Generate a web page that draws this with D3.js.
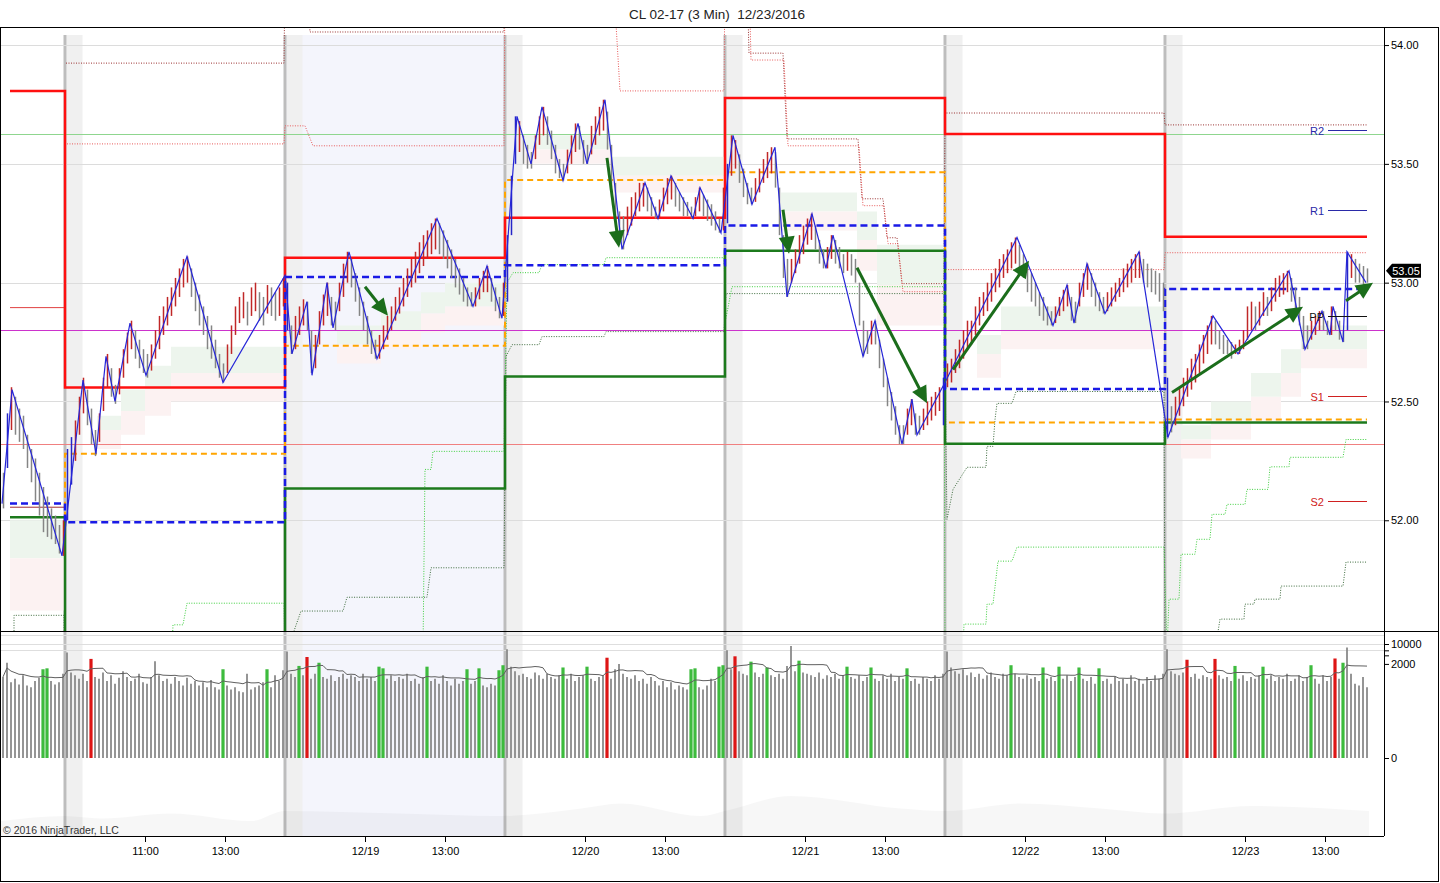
<!DOCTYPE html>
<html><head><meta charset="utf-8">
<script src="https://cdn.jsdelivr.net/npm/d3@7"></script>
<style>
body{margin:0;background:#fff;}
svg{display:block;font-family:"Liberation Sans",Arial,sans-serif;}
</style>
</head><body>
<svg id="c" width="1440" height="883"></svg>
<script>
// ================= DATA =================
const titleText = "CL 02-17 (3 Min)  12/23/2016";
const copyrightText = "\u00a9 2016 NinjaTrader, LLC";
// sessions: 3-min bar slots from chart start
const sessionDates = ["12/15","12/16","12/19","12/20","12/21","12/22","12/23"];
const sessionStartSlots = [0,32,142,252,362,472,582];
const firstLevelSlot = 4.5, lastSlot = 683;
const highlightedSession = 2;
// x-axis labels
const tickSlots = [72,112,182,222,292,332,402,442,512,552,622,662];
const tickLabels = ["11:00","13:00","12/19","13:00","12/20","13:00","12/21","13:00","12/22","13:00","12/23","13:00"];
const priceTicks = [52.00,52.50,53.00,53.50,54.00];
const volTicks = [0,2000,4000,6000,10000];
const volLabelled = [0,2000,10000];
const volGrid = [6000,10000,20000];
const lastPrice = 53.05;

// price bars per session [high, low], one per 6 minutes
const bars1215 = [[52.20,52.05],[52.45,52.22],[52.56,52.38],[52.52,52.36],[52.47,52.33],[52.44,52.30],[52.36,52.22],[52.30,52.16],[52.26,52.08],[52.20,52.02],[52.14,51.95],[52.10,51.93],[52.05,51.92],[52.02,51.90],[51.98,51.86],[52.00,51.85]];
const bars1216 = [[52.30,52.00],[52.35,52.15],[52.42,52.25],[52.52,52.36],[52.60,52.45],[52.55,52.40],[52.47,52.32],[52.38,52.27],[52.45,52.33],[52.60,52.46],
[52.70,52.56],[52.64,52.52],[52.57,52.49],[52.64,52.53],[52.72,52.60],[52.79,52.66],[52.84,52.72],[52.80,52.68],[52.76,52.64],[52.72,52.62],
[52.70,52.60],[52.74,52.63],[52.80,52.68],[52.86,52.72],[52.90,52.78],[52.94,52.82],[52.98,52.86],[53.02,52.90],[53.06,52.94],[53.10,52.98],
[53.11,53.00],[53.06,52.94],[53.00,52.88],[52.95,52.82],[52.90,52.78],[52.86,52.72],[52.82,52.68],[52.76,52.64],[52.70,52.60],[52.66,52.58],
[52.74,52.62],[52.82,52.70],[52.90,52.78],[52.94,52.83],[52.96,52.85],[52.92,52.82],[52.98,52.86],[53.00,52.88],[52.96,52.84],[52.94,52.82],
[52.99,52.87],[52.98,52.86],[52.96,52.84],[52.98,52.86],[53.02,52.90]];
const bars1219 = [[53.00,52.80],[52.82,52.70],[52.86,52.72],[52.90,52.78],[52.93,52.82],[52.92,52.80],[52.80,52.62],[52.78,52.64],[52.88,52.74],[52.95,52.82],
[53.00,52.86],[52.94,52.82],[52.92,52.80],[53.00,52.88],[53.08,52.94],[53.13,53.00],[53.10,52.98],[53.04,52.92],[52.98,52.86],[52.92,52.80],
[52.86,52.74],[52.80,52.70],[52.76,52.68],[52.78,52.68],[52.82,52.72],[52.86,52.76],[52.90,52.80],[52.94,52.84],[52.98,52.87],[53.02,52.90],
[53.06,52.94],[53.10,52.98],[53.13,53.00],[53.17,53.04],[53.20,53.07],[53.22,53.10],[53.25,53.12],[53.27,53.14],[53.25,53.12],[53.22,53.10],
[53.18,53.06],[53.14,53.02],[53.10,52.98],[53.06,52.95],[53.02,52.92],[52.98,52.90],[52.96,52.90],[52.98,52.90],[53.02,52.93],[53.05,52.96],
[53.07,52.96],[53.02,52.92],[52.98,52.88],[52.94,52.85],[53.00,52.86]];
const bars1220 = [[53.20,52.92],[53.45,53.20],[53.70,53.50],[53.68,53.55],[53.62,53.50],[53.58,53.48],[53.55,53.48],[53.62,53.52],[53.70,53.58],[53.74,53.62],
[53.70,53.58],[53.64,53.52],[53.58,53.46],[53.52,53.44],[53.50,53.43],[53.56,53.46],[53.62,53.50],[53.67,53.55],[53.66,53.56],[53.60,53.50],
[53.58,53.50],[53.66,53.54],[53.70,53.58],[53.74,53.62],[53.77,53.64],[53.72,53.56],[53.58,53.40],[53.42,53.26],[53.30,53.16],[53.28,53.14],
[53.32,53.20],[53.36,53.24],[53.38,53.28],[53.42,53.30],[53.42,53.32],[53.40,53.30],[53.36,53.28],[53.32,53.27],[53.35,53.27],[53.40,53.30],
[53.44,53.33],[53.45,53.35],[53.42,53.32],[53.38,53.30],[53.36,53.28],[53.34,53.28],[53.32,53.27],[53.36,53.28],[53.40,53.30],[53.37,53.28],
[53.35,53.26],[53.33,53.24],[53.30,53.22],[53.27,53.21],[53.40,53.22]];
const bars1221 = [[53.50,53.25],[53.62,53.45],[53.60,53.48],[53.54,53.42],[53.48,53.36],[53.42,53.33],[53.40,53.33],[53.44,53.34],[53.48,53.38],[53.52,53.42],
[53.55,53.44],[53.57,53.46],[53.55,53.40],[53.40,53.20],[53.20,53.02],[53.10,52.94],[53.10,53.00],[53.14,53.04],[53.20,53.08],[53.24,53.12],
[53.27,53.16],[53.29,53.18],[53.24,53.14],[53.18,53.08],[53.14,53.06],[53.15,53.06],[53.20,53.10],[53.18,53.08],[53.15,53.06],[53.12,53.04],
[53.13,53.05],[53.12,53.03],[53.10,53.00],[53.00,52.82],[52.84,52.69],[52.80,52.70],[52.84,52.74],[52.84,52.74],[52.76,52.64],[52.68,52.56],
[52.60,52.48],[52.54,52.42],[52.48,52.36],[52.40,52.32],[52.40,52.32],[52.47,52.36],[52.51,52.40],[52.45,52.36],[52.44,52.36],[52.47,52.38],
[52.50,52.40],[52.52,52.42],[52.54,52.44],[52.56,52.46],[52.60,52.40]];
const bars1222 = [[52.66,52.56],[52.68,52.58],[52.72,52.62],[52.76,52.64],[52.80,52.68],[52.84,52.72],[52.84,52.74],[52.90,52.78],[52.94,52.82],[52.96,52.86],
[53.00,52.88],[53.04,52.92],[53.06,52.96],[53.10,52.98],[53.12,53.02],[53.14,53.04],[53.17,53.06],[53.19,53.08],[53.16,53.06],[53.12,53.02],
[53.08,52.96],[53.04,52.92],[53.00,52.90],[52.96,52.86],[52.94,52.84],[52.90,52.82],[52.88,52.82],[52.90,52.83],[52.94,52.86],[52.97,52.88],
[52.99,52.90],[52.94,52.84],[52.92,52.83],[53.00,52.90],[53.04,52.94],[53.08,52.97],[53.04,52.94],[53.00,52.90],[52.96,52.88],[52.94,52.87],
[52.96,52.88],[52.98,52.90],[53.00,52.92],[53.02,52.94],[53.06,52.96],[53.08,52.98],[53.10,53.00],[53.12,53.02],[53.13,53.02],[53.10,53.00],
[53.08,52.98],[53.06,52.96],[53.05,52.95],[53.04,52.92],[53.00,52.88]];
const bars1223 = [[52.60,52.35],[52.48,52.37],[52.52,52.40],[52.56,52.44],[52.60,52.48],[52.64,52.52],[52.68,52.55],[52.70,52.58],[52.74,52.62],[52.78,52.66],
[52.82,52.70],[52.86,52.74],[52.84,52.74],[52.80,52.72],[52.78,52.70],[52.76,52.70],[52.75,52.68],[52.74,52.70],[52.76,52.70],[52.80,52.72],
[52.90,52.76],[52.92,52.80],[52.90,52.80],[52.92,52.82],[52.96,52.86],[52.94,52.86],[52.98,52.88],[53.02,52.92],[53.03,52.94],[53.04,52.95],
[53.05,52.96],[53.02,52.92],[52.98,52.88],[52.94,52.82],[52.86,52.72],[52.82,52.72],[52.84,52.76],[52.86,52.78],[52.88,52.80],[52.88,52.80],
[52.84,52.78],[52.90,52.78],[52.88,52.80],[52.84,52.76],[52.80,52.75],[53.13,52.80],[53.12,53.02],[53.10,53.00],[53.08,53.00],[53.07,52.99],
[53.06,53.00]];
const sessionBars = [bars1215,bars1216,bars1219,bars1220,bars1221,bars1222,bars1223];

// volume per bar (same bars as above)
const vol1215 = [700,2200,450,600,380,800,350,300,500,650,1300,1400,500,380,450,900];
const vol1216 = [5000,1000,800,600,900,500,3000,700,600,1000,500,800,400,650,1100,700,500,600,900,450,400,700,2500,800,500,600,400,700,500,350,650,400,500,350,450,300,550,300,250,1300,350,250,300,220,200,900,250,300,350,450,1300,300,800,500,1200];
const vol1219 = [5500,900,700,1700,800,3500,600,900,2200,700,600,800,500,700,900,600,800,700,500,900,600,700,500,1600,1400,600,800,500,700,600,900,500,600,400,700,1600,500,600,400,800,500,350,600,400,500,1300,400,500,1400,350,300,400,350,1200,1800];
const vol1220 = [6500,1600,1100,800,900,700,600,1000,800,600,900,700,600,800,1500,600,900,500,700,800,1600,600,500,700,800,3300,600,1300,2000,900,700,600,800,500,600,400,700,500,350,500,300,450,250,350,300,250,1300,1400,300,250,350,600,500,1600,1800];
const vol1221 = [6000,1300,3700,1100,900,800,2400,1000,700,900,1500,800,700,900,600,1700,8500,1100,2600,1000,900,800,700,1000,600,800,700,900,600,800,1600,700,600,800,500,700,1500,600,500,800,600,900,500,700,600,1400,500,600,400,700,600,500,800,600,900];
const vol1222 = [5500,1500,1100,900,1300,800,1000,700,900,600,800,1000,700,600,900,800,1800,900,700,600,800,600,700,500,1500,600,700,500,1600,600,800,500,700,1500,600,500,700,400,1400,500,600,400,700,500,600,400,800,500,600,400,700,500,800,600,900];
const vol1223 = [6500,1100,900,800,1000,2800,700,900,600,800,700,600,3000,800,600,700,500,1700,600,800,500,700,600,800,1600,600,800,500,700,600,900,500,600,800,500,700,1800,600,400,800,500,700,3100,600,2200,7500,900,400,350,700,300];
const sessionVolumes = [vol1215,vol1216,vol1219,vol1220,vol1221,vol1222,vol1223];
const volGreenSlots = [21,23,111,133,149,159,189,191,213,233,239,249,251,281,293,345,347,359,361,375,383,399,423,435,453,505,521,529,539,549,617,631,655,671];
const volRedSlots = [45,153,303,367,593,607,667];
const volMAPeriod = 10;
// faint lower indicator in the volume panel [slot, value 0..1]
const lowerIndicator = [[0,0.30],[32,0.40],[50,0.35],[85,0.45],[125,0.30],[142,0.50],[200,0.45],[250,0.40],[290,0.55],[310,0.65],[350,0.40],[362,0.50],[395,0.80],[450,0.55],[472,0.50],[510,0.65],[550,0.55],[582,0.45],[625,0.60],[684,0.50]];

// swing (zigzag) pivots
const zzSlots = [0.5,5.5,30.5,41,47.5,52.5,57,64.5,72.5,93,111,142,145.5,153,155.5,163,166,174,188,218,236,243,250.5,258,265,270.5,281,288.5,293,302,310.5,322,328.5,335,346,349.5,360,366,375.5,387,393,405.5,412.5,416,431,437,450.5,455.5,458,472,508,526,533,536.5,543,552,569,583.5,606,618.5,644,652,660.5,664.5,666,671,673,682.5];
const zzPrices = [52.07,52.55,51.85,52.59,52.28,52.69,52.50,52.83,52.61,53.11,52.58,53.03,52.70,52.92,52.61,53.00,52.81,53.13,52.68,53.27,52.90,53.07,52.85,53.70,53.50,53.74,53.43,53.67,53.50,53.77,53.14,53.42,53.27,53.45,53.27,53.40,53.21,53.62,53.33,53.57,52.94,53.29,53.06,53.20,52.69,52.84,52.32,52.51,52.36,52.58,53.19,52.82,52.99,52.83,53.08,52.87,53.13,52.35,52.86,52.70,53.05,52.72,52.88,52.78,52.90,52.75,53.13,53.00];

// session levels (one per session)
const redLevels    = [53.807,52.559,53.105,53.273,53.777,53.626,53.193];
const blueLevels   = [52.071,51.992,53.024,53.073,53.241,52.553,52.973];
const greenLevels  = [52.013,51.400,52.134,52.605,53.134,52.322,52.412];
const orangeLevels = [51.400,52.280,52.735,53.432,53.465,52.411,52.424];
const prevHigh1215 = 52.895, prevLow1215 = 52.055;

// horizontal reference lines
const refGreen = 53.625, refMagenta = 52.80, refRed = 52.322;

// pivot labels on the right
const pivotNames  = ["R2","R1","PP","S1","S2"];
const pivotValues = [53.643,53.307,52.861,52.521,52.080];

// envelope step lines [slot, price]
const upperDark = [[32.5,53.924],[141.5,53.924],[142,54.3],[153,54.3],[154.5,54.055],[251.5,54.055],[252,54.3],[373,54.3],[374,53.966],[391,53.966],[393,53.605],[428.5,53.605],[430.5,53.353],[441,53.353],[443,53.189],[448,53.189],[450.5,52.996],[471.5,52.996],[472,53.714],[581.5,53.714],[582,53.664],[683,53.664]];
const upperRed = [[33,53.584],[141.5,53.584],[142,53.66],[152,53.66],[156,53.576],[251.5,53.576],[252,54.3],[306,54.3],[309.5,53.807],[361.5,53.807],[362,54.3],[374,54.3],[375,53.937],[391.5,53.937],[393.5,53.576],[429,53.576],[431,53.324],[441.5,53.324],[443.5,53.164],[448.5,53.164],[451,52.962],[471.5,52.962],[472,53.055],[581.5,53.055],[582,53.126],[683,53.126]];
const lowerDark = [[6.5,51.45],[6.5,51.60],[31.5,51.60],[31.5,51.45],[143,51.45],[150,51.618],[171,51.618],[173,51.676],[213,51.676],[215,51.80],[251.5,51.80],[252.5,52.689],[255.5,52.739],[269,52.739],[270.5,52.773],[301.5,52.773],[302.5,52.794],[361.5,52.794],[362.5,52.954],[471.5,52.954],[473,52.004],[476,52.13],[483,52.223],[492.5,52.223],[493,52.311],[496,52.311],[497,52.424],[498,52.492],[505.5,52.492],[507.5,52.542],[581.5,52.542],[582,51.45],[607,51.45],[609.5,51.584],[621.5,51.584],[622,51.647],[626.5,51.647],[627,51.668],[639.5,51.668],[640,51.723],[671,51.723],[672.5,51.824],[683,51.824]];
const lowerGreen = [[85.5,51.45],[86,51.56],[91,51.56],[93,51.651],[141.5,51.651],[142,51.45],[211,51.45],[212,52.214],[215,52.214],[216,52.29],[251.5,52.29],[253,53.0],[256,53.042],[269,53.042],[270.5,53.076],[301.5,53.076],[302.5,53.105],[361.5,53.105],[362.5,52.85],[365.5,52.983],[471.5,52.983],[472,51.45],[481,51.45],[481.5,51.563],[492.5,51.563],[493,51.647],[496,51.647],[498.5,51.828],[505.5,51.828],[508,51.887],[581.5,51.887],[583,51.45],[584,51.668],[589,51.668],[590,51.857],[597,51.857],[598,51.92],[604.5,51.92],[605.5,52.025],[612,52.025],[613,52.067],[622,52.067],[623,52.13],[633.5,52.13],[634.5,52.225],[644,52.225],[644.5,52.265],[671,52.265],[672.5,52.34],[683,52.34]];

// shaded bands [slot, top, mid, bottom]
const clouds = [
 [[4.5,52.00,51.84,51.62],[31.5,52.00,51.84,51.62]],
 [[48,52.44,52.38,52.30],[60,52.55,52.46,52.36],[72,52.65,52.55,52.44],[85,52.73,52.62,52.50],[141.5,52.73,52.62,52.52]],
 [[168,52.82,52.74,52.66],[190,52.88,52.80,52.72],[210,52.96,52.87,52.79],[222,53.00,52.90,52.82],[251.5,53.00,52.90,52.82]],
 [[262,53.62,53.56,53.50],[305,53.53,53.45,53.38],[361.5,53.53,53.45,53.38]],
 [[390,53.38,53.30,53.22],[428,53.30,53.18,53.05],[438,53.16,52.99,52.82],[471.5,53.16,52.99,52.82]],
 [[488,52.78,52.70,52.60],[500,52.90,52.80,52.72],[581.5,52.90,52.80,52.72]],
 [[590,52.40,52.34,52.26],[605,52.50,52.42,52.34],[625,52.62,52.52,52.42],[640,52.72,52.62,52.52],[650,52.82,52.72,52.64],[683,52.82,52.72,52.64]]
];

// trend arrows [slot1, price1, slot2, price2]
const arrows = [[182,52.983,193.5,52.861],[303,53.525,309,53.147],[391,53.307,394,53.122],[428,53.063,463,52.492],[476,52.634,514,53.092],[585.5,52.538,651,52.899],[672.5,52.924,686,53.00]];

// ================= DRAWING =================
const svg = d3.select("#c");
const PL = 1, PR = 1384, PT = 27, PB = 631, VT = 632, VB = 836;
const x = d3.scaleLinear().domain([0, 691.5]).range([PL, PR]);
const y = d3.scaleLinear().domain([51.534, 54.076]).range([PB, PT]);
const yv = d3.scaleSymlog().constant(1).domain([0, 10000]).range([758, 644]);
const yl = d3.scaleLinear().domain([0, 1]).range([VB, 786]);

svg.append("rect").attr("width",1440).attr("height",883).attr("fill","#fff");
const defs = svg.append("defs");
defs.append("clipPath").attr("id","cp").append("rect").attr("x",PL).attr("y",PT+1).attr("width",PR-PL).attr("height",PB-PT-1);
defs.append("clipPath").attr("id","cv").append("rect").attr("x",PL).attr("y",VT).attr("width",PR-PL).attr("height",VB-VT);

// session backgrounds
const bg = svg.append("g");
bg.append("rect").attr("x",x(sessionStartSlots[highlightedSession])).attr("y",35)
  .attr("width",x(sessionStartSlots[highlightedSession+1])-x(sessionStartSlots[highlightedSession])).attr("height",VB-35).attr("fill","#f4f5fc");
sessionStartSlots.slice(1).forEach(s=>{
  bg.append("rect").attr("x",x(s)+1.5).attr("y",35).attr("width",16).attr("height",VB-35).attr("fill","#f0f0f0");
});
// faint lower indicator
svg.append("g").attr("clip-path","url(#cv)").append("path").datum(lowerIndicator)
  .attr("d",d3.area().curve(d3.curveMonotoneX).x(d=>x(d[0])).y0(VB).y1(d=>yl(d[1]))).attr("fill","#000").attr("fill-opacity",0.03);
sessionStartSlots.slice(1).forEach(s=>{
  bg.append("line").attr("x1",x(s)).attr("x2",x(s)).attr("y1",35).attr("y2",VB).attr("stroke","#bdbdbd").attr("stroke-width",3);
});

// price panel
const gp = svg.append("g").attr("clip-path","url(#cp)");
priceTicks.forEach(v=>gp.append("line").attr("x1",PL).attr("x2",PR).attr("y1",Math.round(y(v))+0.5).attr("y2",Math.round(y(v))+0.5).attr("stroke","#dcdcdc"));

// clouds
clouds.forEach(c=>{
  gp.append("path").datum(c).attr("fill","#edf5ed")
    .attr("d",d3.area().curve(d3.curveStepAfter).x(d=>x(d[0])).y0(d=>y(d[2])).y1(d=>y(d[1])));
  gp.append("path").datum(c).attr("fill","#fcf2f2")
    .attr("d",d3.area().curve(d3.curveStepAfter).x(d=>x(d[0])).y0(d=>y(d[3])).y1(d=>y(d[2])));
});

// reference horizontals
[[refGreen,"#8fd68f"],[refMagenta,"#cc33cc"],[refRed,"#f08080"]].forEach(([v,c])=>{
  gp.append("line").attr("x1",PL).attr("x2",PR).attr("y1",Math.round(y(v))+0.5).attr("y2",Math.round(y(v))+0.5).attr("stroke",c).attr("stroke-width",1);
});

// envelope dotted lines
const lineXY = d3.line().x(d=>x(d[0])).y(d=>y(d[1]));
[[upperDark,"#9a3030"],[upperRed,"#e85a5a"],[lowerDark,"#3d6b3d"],[lowerGreen,"#3fcf3f"]].forEach(([arr,c])=>{
  gp.append("path").datum(arr).attr("d",lineXY).attr("fill","none").attr("stroke",c).attr("stroke-width",1).attr("stroke-dasharray","1,1.5");
});
// previous-session lines in first session
gp.append("line").attr("x1",x(firstLevelSlot)).attr("x2",x(sessionStartSlots[1])).attr("y1",y(prevHigh1215)).attr("y2",y(prevHigh1215)).attr("stroke","#e04040").attr("stroke-width",1);
gp.append("line").attr("x1",x(firstLevelSlot)).attr("x2",x(sessionStartSlots[1])).attr("y1",y(prevLow1215)).attr("y2",y(prevLow1215)).attr("stroke","#a03030").attr("stroke-width",1);

// session level step lines
function levelPts(levels){
  const pts = levels.map((v,i)=>[i===0?firstLevelSlot:sessionStartSlots[i], v]);
  pts.push([lastSlot, levels[levels.length-1]]);
  return pts;
}
const stepLine = d3.line().curve(d3.curveStepAfter).x(d=>x(d[0])).y(d=>y(d[1]));
gp.append("path").datum(levelPts(orangeLevels)).attr("d",stepLine).attr("fill","none").attr("stroke","#ffa500").attr("stroke-width",2).attr("stroke-dasharray","6,4");
gp.append("path").datum(levelPts(greenLevels)).attr("d",stepLine).attr("fill","none").attr("stroke","#1c7a1c").attr("stroke-width",2.5);
gp.append("path").datum(levelPts(redLevels)).attr("d",stepLine).attr("fill","none").attr("stroke","#ff1010").attr("stroke-width",2.5);
gp.append("path").datum(levelPts(blueLevels)).attr("d",stepLine).attr("fill","none").attr("stroke","#1a1ae6").attr("stroke-width",2.5).attr("stroke-dasharray","7,4");

// price bars
const allBars = [];
sessionBars.forEach((arr,k)=>arr.forEach((b,j)=>allBars.push({slot:sessionStartSlots[k]+2*j+1, hi:b[0], lo:b[1]})));
allBars.forEach((b,i)=>{
  const mid=(b.hi+b.lo)/2, pm = i>0 ? (allBars[i-1].hi+allBars[i-1].lo)/2 : mid;
  b.color = (b.hi-b.lo)>=0.2 ? "#2525c8" : (mid>pm ? "#c02828" : "#858585");
});
gp.append("g").selectAll("line").data(allBars).join("line")
  .attr("x1",d=>Math.round(x(d.slot))+0.5).attr("x2",d=>Math.round(x(d.slot))+0.5)
  .attr("y1",d=>y(d.hi)).attr("y2",d=>y(d.lo)).attr("stroke",d=>d.color).attr("stroke-width",1.5);

// zigzag
gp.append("path").datum(zzSlots.map((s,i)=>[s,zzPrices[i]])).attr("d",lineXY).attr("fill","none").attr("stroke","#2626d8").attr("stroke-width",1.2);

// arrows
arrows.forEach(a=>{
  const x1=x(a[0]), y1=y(a[1]), x2=x(a[2]), y2=y(a[3]);
  const dx=x2-x1, dy=y2-y1, L=Math.hypot(dx,dy), ux=dx/L, uy=dy/L, hl=17, hw=8;
  const bx=x2-ux*hl, by=y2-uy*hl;
  gp.append("line").attr("x1",x1).attr("y1",y1).attr("x2",bx+ux*2).attr("y2",by+uy*2).attr("stroke","#1b6d1b").attr("stroke-width",3);
  gp.append("path").attr("d",`M${x2},${y2}L${bx-uy*hw},${by+ux*hw}L${bx+uy*hw},${by-ux*hw}Z`).attr("fill","#1b6d1b");
});

// pivot labels
pivotNames.forEach((n,i)=>{
  const c = n[0]==="R" ? "#2a2aa8" : (n==="PP" ? "#111" : "#d02020");
  const yy = Math.round(y(pivotValues[i]))+0.5;
  gp.append("line").attr("x1",x(663.5)).attr("x2",x(lastSlot)).attr("y1",yy).attr("y2",yy).attr("stroke",c).attr("stroke-width",1.2);
  gp.append("text").attr("x",x(661.5)).attr("y",yy+4).attr("text-anchor","end").attr("font-size",11).attr("fill",c).text(n);
});

// volume panel
const gv = svg.append("g").attr("clip-path","url(#cv)");
volGrid.forEach(v=>gv.append("line").attr("x1",PL).attr("x2",PR).attr("y1",Math.round(yv(v))+0.5).attr("y2",Math.round(yv(v))+0.5).attr("stroke","#dedede"));
const allVol = [];
sessionVolumes.forEach((arr,k)=>arr.forEach((v,j)=>allVol.push({slot:sessionStartSlots[k]+2*j+1, v})));
allVol.forEach(d=>{
  d.color = volRedSlots.includes(d.slot) ? "#dd1515" : (volGreenSlots.includes(d.slot) ? "#3dbb3d" : "#8a8a8a");
  d.w = d.color==="#8a8a8a" ? 1.8 : 3.2;
});
gv.append("g").selectAll("line").data(allVol).join("line")
  .attr("x1",d=>x(d.slot)).attr("x2",d=>x(d.slot)).attr("y1",d=>yv(d.v)).attr("y2",yv(0))
  .attr("stroke",d=>d.color).attr("stroke-width",d=>d.w);
const ma = allVol.map((d,i)=>{const s=allVol.slice(Math.max(0,i-volMAPeriod+1),i+1);return [d.slot,d3.mean(s,e=>e.v)];});
gv.append("path").datum(ma).attr("d",d3.line().x(d=>x(d[0])).y(d=>yv(d[1]))).attr("fill","none").attr("stroke","#606060").attr("stroke-width",1);

// axes
const fmt = d3.format(".2f");
const ax = svg.append("g").attr("transform",`translate(${PR},0)`)
  .call(d3.axisRight(y).tickValues(priceTicks).tickFormat(fmt).tickSize(5).tickPadding(2));
const av = svg.append("g").attr("transform",`translate(${PR},0)`)
  .call(d3.axisRight(yv).tickValues(volTicks).tickFormat(d=>volLabelled.includes(d)?String(d):"").tickSize(5).tickPadding(2));
const axb = svg.append("g").attr("transform",`translate(0,${VB})`)
  .call(d3.axisBottom(x).tickValues(tickSlots).tickFormat((d,i)=>tickLabels[i]).tickSize(6).tickPadding(5));
[ax,av,axb].forEach(g=>{
  g.select(".domain").remove();
  g.selectAll("text").attr("font-size",11).attr("fill","#000").attr("font-family","Liberation Sans, Arial, sans-serif");
  g.selectAll("line").attr("stroke","#000");
});

// last price marker
const ly = y(lastPrice);
svg.append("path").attr("d",`M${PR+2},${ly}L${PR+8},${ly-7}L${PR+37},${ly-7}L${PR+37},${ly+7}L${PR+8},${ly+7}Z`).attr("fill","#000");
svg.append("text").attr("x",PR+22).attr("y",ly+4).attr("text-anchor","middle").attr("font-size",11).attr("fill","#fff").text(fmt(lastPrice));

// frame
svg.append("line").attr("x1",PR+0.5).attr("x2",PR+0.5).attr("y1",PT).attr("y2",VB).attr("stroke","#000");
svg.append("line").attr("x1",0).attr("x2",1439).attr("y1",PB+0.5).attr("y2",PB+0.5).attr("stroke","#000");
svg.append("line").attr("x1",0).attr("x2",PR).attr("y1",VB+0.5).attr("y2",VB+0.5).attr("stroke","#000");
svg.append("rect").attr("x",0.5).attr("y",PT+0.5).attr("width",1438).attr("height",881-PT).attr("fill","none").attr("stroke","#000");

// texts
svg.append("text").attr("x",717).attr("y",19).attr("text-anchor","middle").attr("font-size",13.5).attr("fill","#222").style("white-space","pre").text(titleText);
svg.append("text").attr("x",3).attr("y",834).attr("font-size",10.5).attr("fill","#333").text(copyrightText);
</script>
</body></html>
